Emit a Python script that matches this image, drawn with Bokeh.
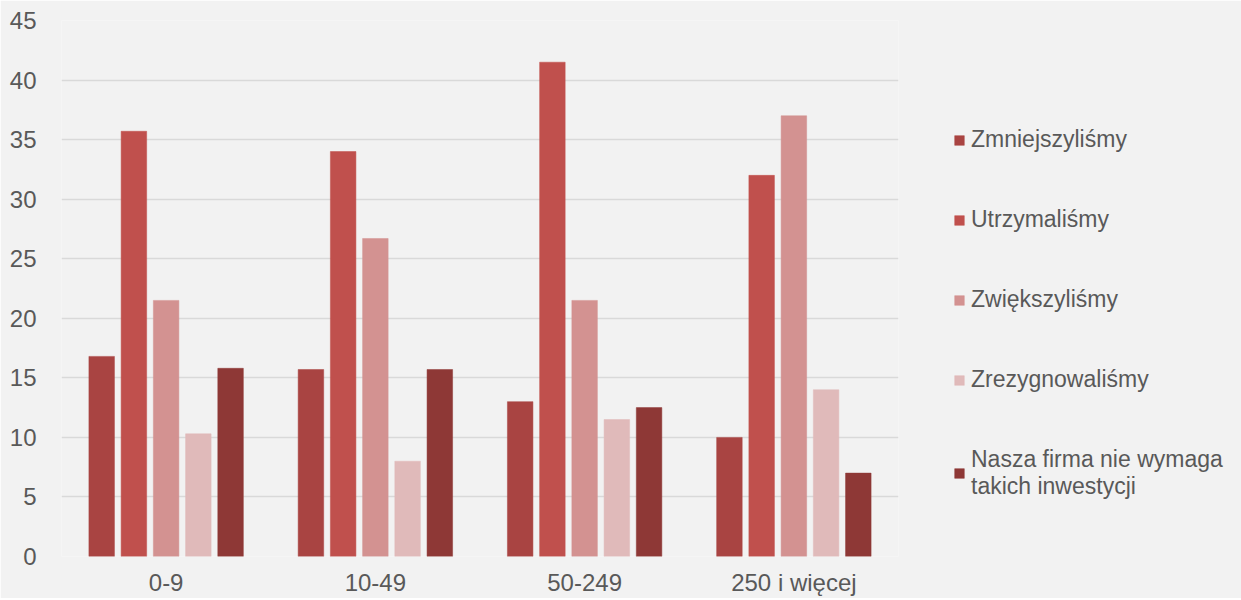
from bokeh.plotting import figure
from bokeh.models import ColumnDataSource, FactorRange, Range1d, Legend, LegendItem, SingleIntervalTicker
from bokeh.transform import dodge
from bokeh.embed import file_html
from bokeh.resources import INLINE

categories = ["0-9", "10-49", "50-249", "250 i więcej"]
series_names = ["Zmniejszyliśmy", "Utrzymaliśmy", "Zwiększyliśmy", "Zrezygnowaliśmy",
                "Nasza firma nie wymaga\ntakich inwestycji"]
zmniejszylismy = [16.8, 15.7, 13.0, 10.0]
utrzymalismy = [35.7, 34.0, 41.5, 32.0]
zwiekszylismy = [21.5, 26.7, 21.5, 37.0]
zrezygnowalismy = [10.3, 8.0, 11.5, 14.0]
nie_wymaga = [15.8, 15.7, 12.5, 7.0]

colors = ["#A94442", "#C0504D", "#D39291", "#E0BABA", "#8E3836"]
series = [zmniejszylismy, utrzymalismy, zwiekszylismy, zrezygnowalismy, nie_wymaga]
keys = ["s0", "s1", "s2", "s3", "s4"]

data = {"cat": categories}
for k, s in zip(keys, series):
    data[k] = s
source = ColumnDataSource(data)

FONT = "Liberation Sans"
TXT = "#595959"

p = figure(x_range=FactorRange(*categories, range_padding=0), y_range=Range1d(0, 45),
           frame_width=837, frame_height=536,
           min_border_left=61, min_border_top=20, min_border_bottom=28, min_border_right=327,
           output_backend="svg", toolbar_location=None)
p.background_fill_color = "#F2F2F2"
p.border_fill_color = "#F2F2F2"
p.outline_line_color = None

offsets = [-0.308, -0.154, 0.0, 0.154, 0.308]
renderers = []
for k, off, c in zip(keys, offsets, colors):
    r = p.vbar(x=dodge("cat", off, range=p.x_range), top=k, width=0.122, source=source,
               fill_color=c, line_color=c, line_width=0.5)
    renderers.append(r)

p.xgrid.grid_line_color = None
p.ygrid.grid_line_color = "#D9D9D9"
p.ygrid.grid_line_width = 1.5
p.yaxis.ticker = SingleIntervalTicker(interval=5)
for ax in (p.xaxis, p.yaxis):
    ax.axis_line_color = None
    ax.major_tick_line_color = None
    ax.minor_tick_line_color = None
    ax.major_label_text_font = FONT
    ax.major_label_text_font_size = "24px"
    ax.major_label_text_color = TXT
p.yaxis.major_label_standoff = 19
p.xaxis.major_label_standoff = 6

legend = Legend(items=[LegendItem(label=n, renderers=[r]) for n, r in zip(series_names, renderers)],
                location=(55, 56), orientation="vertical")
legend.label_text_font = FONT
legend.label_text_font_size = "23px"
legend.label_text_color = TXT
legend.glyph_width = 12
legend.glyph_height = 12
legend.label_standoff = 6
legend.label_height = 27
legend.spacing = 53
legend.padding = 0
legend.margin = 0
legend.border_line_color = None
legend.background_fill_alpha = 0
p.add_layout(legend, "right")

open("out.html", "w").write(file_html(p, INLINE))
